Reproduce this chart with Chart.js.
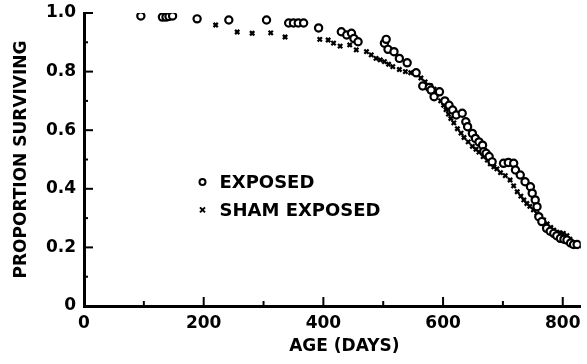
<!DOCTYPE html>
<html>
<head>
<meta charset="utf-8">
<script src="https://cdn.jsdelivr.net/npm/chart.js@4"></script>
<style>
html,body{margin:0;padding:0;background:#fff;}
</style>
</head>
<body>
<canvas id="chart" width="587" height="364"></canvas>
<script>
// [age in days, proportion surviving]
var exposedData = [
  [95,0.99],[131,0.986],[137,0.986],[142,0.988],[148,0.99],[189,0.98],[242,0.976],[305,0.976],
  [342,0.966],[350,0.966],[358,0.966],[367,0.966],[392,0.949],[430,0.936],[439,0.925],[447,0.931],
  [451,0.913],[458,0.902],[502,0.897],[505,0.91],[508,0.876],[518,0.868],[527,0.845],[540,0.83],
  [555,0.796],[566,0.751],[577,0.746],[580,0.737],[585,0.714],[594,0.731],[603,0.70],[610,0.685],
  [616,0.669],[622,0.652],[632,0.658],[638,0.629],[641,0.612],[649,0.589],[654,0.572],[660,0.56],
  [666,0.549],[668,0.527],[672,0.521],[677,0.51],[682,0.492],[701,0.487],[709,0.49],[718,0.487],
  [721,0.464],[729,0.447],[737,0.424],[746,0.407],[749,0.385],[754,0.362],[757,0.339],[760,0.305],
  [765,0.288],[773,0.265],[779,0.255],[785,0.248],[790,0.24],[796,0.231],[802,0.228],[807,0.225],
  [813,0.215],[818,0.21],[824,0.21]
];
var shamData = [
  [135,0.985],[189,0.978],[220,0.959],[256,0.935],[281,0.931],[312,0.932],[336,0.918],[394,0.91],
  [408,0.908],[417,0.897],[428,0.887],[444,0.891],[455,0.874],[472,0.868],[480,0.857],[488,0.845],
  [495,0.84],[502,0.834],[509,0.825],[516,0.817],[527,0.807],[537,0.80],[546,0.796],[555,0.79],
  [563,0.778],[570,0.765],[579,0.752],[585,0.74],[591,0.725],[596,0.70],[601,0.685],[605,0.67],
  [609,0.655],[613,0.64],[618,0.625],[624,0.605],[630,0.59],[635,0.575],[642,0.56],[649,0.545],
  [655,0.535],[660,0.525],[667,0.51],[674,0.498],[679,0.485],[685,0.475],[690,0.468],[696,0.455],
  [704,0.445],[712,0.43],[718,0.41],[724,0.39],[730,0.375],[735,0.362],[740,0.35],[745,0.34],
  [751,0.328],[757,0.316],[762,0.305],[768,0.294],[774,0.28],[780,0.268],[785,0.259],[790,0.252],
  [795,0.25],[801,0.248],[807,0.24],[812,0.228],[818,0.215],[823,0.205],[828,0.205]
];
var seriesNames = ["EXPOSED", "SHAM EXPOSED"];
var xTicks = [0, 200, 400, 600, 800];
var yTicks = [0, 0.2, 0.4, 0.6, 0.8, 1.0];
var xTitle = "AGE (DAYS)";

var FONT = "'DejaVu Sans', sans-serif";

function toPoints(arr) {
  return arr.map(function (p) { return {x: p[0], y: p[1]}; });
}

// little tick marks pointing into the plot, like the original figure
var innerTicks = {
  id: "innerTicks",
  afterDraw: function (chart) {
    var ctx = chart.ctx, xs = chart.scales.x, ys = chart.scales.y;
    var a = chart.chartArea;
    ctx.save();
    ctx.strokeStyle = "#000";
    ctx.lineWidth = 2;
    for (var v = 1; v <= 10; v++) {
      var py = ys.getPixelForValue(v / 10);
      var len = v % 2 === 0 ? 9 : 4;
      ctx.beginPath(); ctx.moveTo(a.left, py); ctx.lineTo(a.left + len, py); ctx.stroke();
    }
    for (var d = 100; d <= 800; d += 100) {
      var px = xs.getPixelForValue(d);
      var l2 = d % 200 === 0 ? 9 : 5;
      ctx.beginPath(); ctx.moveTo(px, a.bottom); ctx.lineTo(px, a.bottom - l2); ctx.stroke();
    }
    // x axis title sits a bit right of centre in the original
    ctx.fillStyle = "#000";
    ctx.font = "bold 17px " + FONT;
    ctx.textAlign = "center";
    ctx.textBaseline = "middle";
    ctx.fillText(xTitle, xs.getPixelForValue(435), 347);
    ctx.restore();
  }
};

var insideLegend = {
  id: "insideLegend",
  afterDraw: function (chart) {
    var ctx = chart.ctx, xs = chart.scales.x, ys = chart.scales.y;
    var mx = xs.getPixelForValue(198);
    var rows = [0.423, 0.328];
    ctx.save();
    ctx.fillStyle = "#000";
    ctx.strokeStyle = "#000";
    ctx.font = "bold 18px " + FONT;
    ctx.textBaseline = "middle";
    rows.forEach(function (r, i) {
      var y = ys.getPixelForValue(r);
      ctx.lineWidth = 2;
      if (i === 0) {
        ctx.beginPath(); ctx.arc(mx, y, 3, 0, Math.PI * 2); ctx.stroke();
      } else {
        ctx.beginPath();
        ctx.moveTo(mx - 2.5, y - 2.5); ctx.lineTo(mx + 2.5, y + 2.5);
        ctx.moveTo(mx + 2.5, y - 2.5); ctx.lineTo(mx - 2.5, y + 2.5);
        ctx.stroke();
      }
      ctx.fillText(seriesNames[i], mx + 17, y + 1);
    });
    ctx.restore();
  }
};

var canvas = document.getElementById("chart");
var chart = new Chart(canvas, {
  type: "scatter",
  data: {
    datasets: [
      {
        label: seriesNames[0],
        data: toPoints(exposedData),
        pointStyle: "circle",
        pointRadius: 3.6,
        borderWidth: 2.2,
        borderColor: "#000",
        backgroundColor: "#fff"
      },
      {
        label: seriesNames[1],
        data: toPoints(shamData),
        pointStyle: "crossRot",
        pointRadius: 3,
        borderWidth: 2.3,
        borderColor: "#000",
        backgroundColor: "#000"
      }
    ]
  },
  options: {
    responsive: false,
    animation: false,
    layout: {padding: {top: 13, right: 2, left: 0, bottom: 0}},
    plugins: {legend: {display: false}, tooltip: {enabled: false}},
    scales: {
      x: {
        type: "linear",
        min: 0,
        max: 830,
        grid: {display: false, drawTicks: false},
        border: {color: "#000", width: 3},
        afterBuildTicks: function (s) { s.ticks = xTicks.map(function (v) { return {value: v}; }); },
        afterFit: function (s) { s.height = 58; s.paddingLeft = 0; s.paddingRight = 0; },
        ticks: {color: "#000", padding: 7, maxRotation: 0, font: {family: FONT, size: 17, weight: "bold"}},
        title: {display: false}
      },
      y: {
        min: 0,
        max: 1,
        grid: {display: false, drawTicks: false},
        border: {color: "#000", width: 3},
        afterBuildTicks: function (s) { s.ticks = yTicks.map(function (v) { return {value: v}; }); },
        afterFit: function (s) { s.width = 84; s.paddingTop = 0; s.paddingBottom = 0; },
        ticks: {
          color: "#000", padding: 8,
          font: {family: FONT, size: 17, weight: "bold"},
          callback: function (v) { return v === 0 ? "0" : v.toFixed(1); }
        },
        title: {display: true, text: "PROPORTION SURVIVING", color: "#000", padding: {top: 11, bottom: 0},
                font: {family: FONT, size: 17, weight: "bold"}}
      }
    }
  },
  plugins: [innerTicks, insideLegend]
});
</script>
</body>
</html>
